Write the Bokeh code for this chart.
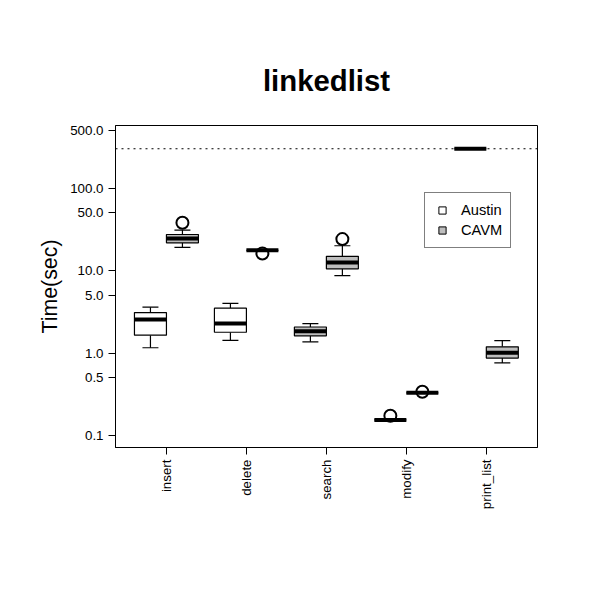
from bokeh.plotting import figure
from bokeh.models import FixedTicker, Range1d, Legend, LegendItem, Span
from bokeh.embed import file_html
from bokeh.resources import INLINE

ops = ["insert", "delete", "search", "modify", "print_list"]

# five-number summaries (seconds)
austin_lo = [1.16, 1.43, 1.37, 0.155, 300]
austin_q1 = [1.65, 1.79, 1.62, 0.155, 300]
austin_med = [2.55, 2.28, 1.84, 0.155, 300]
austin_q3 = [3.1, 3.5, 2.07, 0.155, 300]
austin_hi = [3.6, 4.0, 2.28, 0.155, 300]
austin_fill = ["white", "white", "#bebebe", "white", "white"]
austin_out_x = [4]
austin_out_y = [0.174]

cavm_lo = [19.1, 17.6, 8.7, 0.33, 0.76]
cavm_q1 = [21.7, 17.6, 10.5, 0.33, 0.87]
cavm_med = [24.5, 17.6, 12.5, 0.33, 1.01]
cavm_q3 = [27.4, 17.6, 14.9, 0.33, 1.19]
cavm_hi = [31.0, 17.6, 20.0, 0.33, 1.42]
cavm_out_x = [1, 2, 3, 4]
cavm_out_y = [38.0, 16.1, 24.1, 0.34]

timeout = 300
ytick_vals = [0.1, 0.5, 1.0, 5.0, 10.0, 50.0, 100.0, 500.0]

p = figure(width=584, height=584, y_axis_type="log", output_backend="svg",
           toolbar_location=None, x_range=Range1d(0.363, 5.64),
           y_range=Range1d(0.0717, 574), title="linkedlist",
           min_border_left=115, min_border_right=47, min_border_top=125,
           min_border_bottom=137)
p.title.align = "center"
p.title.text_font = "Liberation Sans"
p.title.text_font_size = "22pt"
p.title.text_font_style = "bold"
p.title.text_color = "black"
p.title.offset = 0
p.title.standoff = 58
p.grid.visible = False
p.outline_line_color = "black"
p.outline_line_width = 1

x = [1, 2, 3, 4, 5]
w = 0.4
for name, off, lo, q1, med, q3, hi, fill in [
        ("Austin", -0.2, austin_lo, austin_q1, austin_med, austin_q3, austin_hi, austin_fill),
        ("CAVM", 0.2, cavm_lo, cavm_q1, cavm_med, cavm_q3, cavm_hi, ["#bebebe"] * 5)]:
    xs = [i + off for i in x]
    p.segment(xs, hi, xs, q3, color="black", line_width=1.2)
    p.segment(xs, lo, xs, q1, color="black", line_width=1.2)
    p.segment([i - w / 4 for i in xs], hi, [i + w / 4 for i in xs], hi, color="black", line_width=1.2)
    p.segment([i - w / 4 for i in xs], lo, [i + w / 4 for i in xs], lo, color="black", line_width=1.2)
    p.vbar(x=xs, width=w, bottom=q1, top=q3, fill_color=fill, line_color="black", line_width=1.2)
    p.segment([i - w / 2 for i in xs], med, [i + w / 2 for i in xs], med, color="black", line_width=4)

p.scatter([i - 0.2 for i in austin_out_x], austin_out_y, size=12, fill_color=None,
          line_color="black", line_width=2)
p.scatter([i + 0.2 for i in cavm_out_x], cavm_out_y, size=12, fill_color=None,
          line_color="black", line_width=2)

p.add_layout(Span(location=timeout, dimension="width", line_color="black",
                  line_dash="2 4", line_width=1.2))

# legend swatches (points placed outside the visible range)
r_a = p.scatter([-10], [1], marker="square", size=13, fill_color="white", line_color="black")
r_c = p.scatter([-10], [1], marker="square", size=13, fill_color="#bebebe", line_color="black")
leg = Legend(items=[LegendItem(label="Austin", renderers=[r_a]),
                    LegendItem(label="CAVM", renderers=[r_c])],
             location=(309, 199), border_line_color="black", border_line_width=1,
             label_text_font="Liberation Sans", label_text_font_size="11pt",
             label_text_color="black",
             glyph_width=18, glyph_height=18, spacing=2, padding=8,
             label_standoff=10, margin=0)
p.add_layout(leg, "center")

p.yaxis.ticker = FixedTicker(ticks=ytick_vals)
p.yaxis.major_label_overrides = {v: f"{v:.1f}" for v in ytick_vals}
p.yaxis.minor_tick_line_color = None
p.yaxis.axis_label = "Time(sec)"
p.yaxis.axis_label_text_font = "Liberation Sans"
p.yaxis.axis_label_text_font_size = "16pt"
p.yaxis.axis_label_text_font_style = "normal"
p.yaxis.axis_label_text_color = "black"
p.xaxis.ticker = FixedTicker(ticks=x)
p.xaxis.major_label_overrides = {i + 1: op for i, op in enumerate(ops)}
p.xaxis.major_label_orientation = 1.5708
p.xaxis.minor_tick_line_color = None
for ax in (p.xaxis, p.yaxis):
    ax.major_label_text_font = "Liberation Sans"
    ax.major_label_text_font_size = "10pt"
    ax.major_label_text_color = "black"
    ax.major_tick_line_color = "black"
    ax.major_tick_out = 7
    ax.major_tick_in = 0
    ax.axis_line_color = "black"

open("out.html", "w").write(file_html(p, INLINE))
